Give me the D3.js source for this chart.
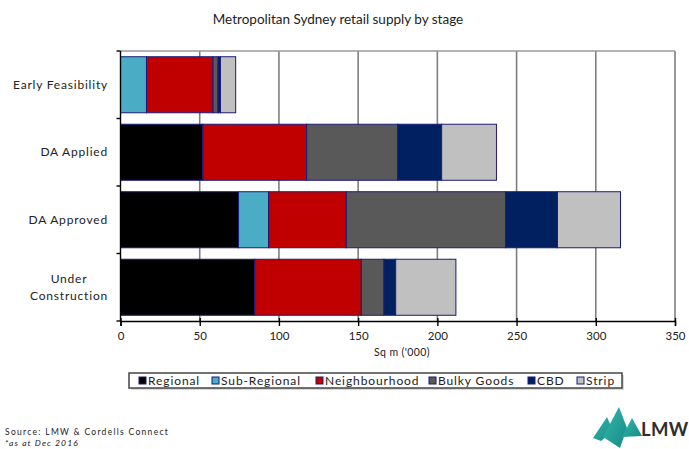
<!DOCTYPE html>
<html>
<head>
<meta charset="utf-8">
<script src="https://cdn.jsdelivr.net/npm/d3@7"></script>
<style>
  html, body { margin: 0; padding: 0; background: #fff; }
  svg { display: block; font-family: Lato, "Open Sans", sans-serif; }
</style>
</head>
<body>
<svg id="chart" width="689" height="449"></svg>
<script>
// Stages (rows, top to bottom) and retail types (stacked segments)
const stages = ["Early Feasibility", "DA Applied", "DA Approved", "Under Construction"];
const types = ["Regional", "Sub-Regional", "Neighbourhood", "Bulky Goods", "CBD", "Strip"];

// Supply in sq m ('000), one array per retail type, ordered by stage
const regional      = [0,    52.0,  74.5, 84.7];
const subRegional   = [16.4, 0,     19.0, 0];
const neighbourhood = [42.0, 65.5,  49.0, 67.3];
const bulkyGoods    = [3.2,  57.5, 100.6, 14.3];
const cbd           = [1.5,  27.7,  32.7,  7.4];
const strip         = [9.6,  34.6,  39.8, 38.0];

const xTicks = [0, 50, 100, 150, 200, 250, 300, 350];

const colours = ["#000000", "#4bacc6", "#c00000", "#595959", "#002060", "#c0c0c0"];

const rows = stages.map((s, i) => ({
  stage: s,
  "Regional": regional[i],
  "Sub-Regional": subRegional[i],
  "Neighbourhood": neighbourhood[i],
  "Bulky Goods": bulkyGoods[i],
  "CBD": cbd[i],
  "Strip": strip[i]
}));

const svg = d3.select("#chart");
const margin = { left: 120.5, right: 14, top: 51, bottom: 128 };
const W = 689, H = 449;

const x = d3.scaleLinear().domain([0, 350]).range([margin.left, W - margin.right]);
const y = d3.scaleBand().domain(stages).range([margin.top, H - margin.bottom]).paddingInner(0.17).paddingOuter(0.085);
const color = d3.scaleOrdinal().domain(types).range(colours);

// Title
svg.append("text")
  .attr("x", 338).attr("y", 24)
  .attr("text-anchor", "middle")
  .attr("font-size", 13.5)
  .attr("fill", "#222")
  .text("Metropolitan Sydney retail supply by stage");

// Vertical gridlines
svg.append("g")
  .selectAll("line")
  .data(xTicks.slice(1))
  .join("line")
  .attr("x1", d => x(d)).attr("x2", d => x(d))
  .attr("y1", margin.top).attr("y2", H - margin.bottom)
  .attr("stroke", "#7f7f7f").attr("stroke-width", 1.6);

// Top border of the plot area
svg.append("line")
  .attr("x1", x(0)).attr("x2", x(350))
  .attr("y1", margin.top).attr("y2", margin.top)
  .attr("stroke", "#9a9a9a").attr("stroke-width", 1.4);

// Stacked bars
const stack = d3.stack().keys(types)(rows);
svg.append("g")
  .selectAll("g")
  .data(stack)
  .join("g")
  .attr("fill", d => color(d.key))
  .selectAll("rect")
  .data(d => d.filter(p => p[1] - p[0] > 0))
  .join("rect")
  .attr("x", d => x(d[0]))
  .attr("width", d => x(d[1]) - x(d[0]))
  .attr("y", d => y(d.data.stage))
  .attr("height", y.bandwidth())
  .attr("stroke", "#1a1a7a")
  .attr("stroke-width", 1);

// X axis
const xAxis = svg.append("g")
  .attr("transform", `translate(0,${H - margin.bottom})`)
  .call(d3.axisBottom(x).tickValues(xTicks).tickSize(5).tickPadding(6).tickFormat(d3.format("d")));
xAxis.select(".domain").attr("stroke", "#000").attr("stroke-width", 1.4);
xAxis.selectAll(".tick line").attr("stroke", "#000").attr("stroke-width", 1.4).attr("y1", -3);
xAxis.selectAll(".tick text").attr("font-size", 11.5).attr("fill", "#222").attr("font-family", "Lato, sans-serif");

svg.append("text")
  .attr("x", 402).attr("y", 356)
  .attr("text-anchor", "middle")
  .attr("font-size", 10.5)
  .attr("letter-spacing", 0.4)
  .attr("fill", "#222")
  .text("Sq m ('000)");

// Y axis line with ticks at category boundaries
const yEdges = [margin.top].concat(stages.map(s => y(s) + y.bandwidth() + y.step() * y.paddingInner() / 2));
yEdges[yEdges.length - 1] = H - margin.bottom;
svg.append("line")
  .attr("x1", x(0)).attr("x2", x(0))
  .attr("y1", margin.top).attr("y2", H - margin.bottom)
  .attr("stroke", "#000").attr("stroke-width", 1.4);
svg.append("g")
  .selectAll("line")
  .data(yEdges)
  .join("line")
  .attr("x1", x(0) - 4).attr("x2", x(0))
  .attr("y1", d => d).attr("y2", d => d)
  .attr("stroke", "#000").attr("stroke-width", 1.4);

// Category labels: single lines right-aligned, wrapped lines centred as a block
const labelLines = {
  "Early Feasibility": ["Early Feasibility"],
  "DA Applied": ["DA Applied"],
  "DA Approved": ["DA Approved"],
  "Under Construction": ["Under", "Construction"]
};
const labelRight = 108;
const catLabels = svg.append("g")
  .selectAll("text")
  .data(stages)
  .join("text")
  .attr("font-size", 12)
  .attr("letter-spacing", 0.8)
  .attr("fill", "#222");
catLabels.each(function (s) {
  const lines = labelLines[s];
  const cy = y(s) + y.bandwidth() / 2;
  const t = d3.select(this);
  lines.forEach((ln, i) => {
    t.append("tspan")
      .attr("y", cy + 4 + (i - (lines.length - 1) / 2) * 17)
      .text(ln);
  });
  // measure and position each line
  const spans = t.selectAll("tspan").nodes();
  const widths = spans.map(n => n.getComputedTextLength());
  const maxW = d3.max(widths);
  const centre = labelRight - maxW / 2;
  spans.forEach((n, i) => {
    d3.select(n).attr("x", centre - widths[i] / 2);
  });
});

// Legend
const legend = svg.append("g");
legend.append("rect")
  .attr("x", 131).attr("y", 375).attr("width", 493).attr("height", 15)
  .attr("fill", "#d9d9d9");
legend.append("rect")
  .attr("x", 129).attr("y", 373).attr("width", 493).attr("height", 15)
  .attr("fill", "#fff").attr("stroke", "#444").attr("stroke-width", 1.5);
const legendX = [139, 212, 316, 429, 528, 577];
const items = legend.selectAll("g.item")
  .data(types)
  .join("g")
  .attr("class", "item")
  .attr("transform", (d, i) => `translate(${legendX[i]},380.5)`);
items.append("rect")
  .attr("x", 0).attr("y", -3.5).attr("width", 7).attr("height", 7)
  .attr("fill", d => color(d))
  .attr("stroke", "#1a1a7a").attr("stroke-width", 1);
items.append("text")
  .attr("x", 9).attr("y", 4.5)
  .attr("font-size", 12)
  .attr("letter-spacing", 0.9)
  .attr("fill", "#222")
  .text(d => d);

// Source note
svg.append("text")
  .attr("x", 5).attr("y", 435)
  .attr("font-size", 8.5).attr("letter-spacing", 1.3).attr("fill", "#222")
  .text("Source: LMW & Cordells Connect");
svg.append("text")
  .attr("x", 5).attr("y", 446)
  .attr("font-size", 8.5).attr("letter-spacing", 1.1).attr("font-style", "italic").attr("fill", "#222")
  .text("*as at Dec 2016");

// Logo
const defs = svg.append("defs");
const grad = defs.append("linearGradient").attr("id", "teal").attr("x1", "0").attr("y1", "0").attr("x2", "1").attr("y2", "1");
grad.append("stop").attr("offset", "0").attr("stop-color", "#35b9ad");
grad.append("stop").attr("offset", "1").attr("stop-color", "#178a87");
const logo = svg.append("g");
logo.append("polygon").attr("points", "593,438 607,417 613,431 601,441").attr("fill", "url(#teal)");
logo.append("polygon").attr("points", "603,437 619,407 627,428 620,448").attr("fill", "url(#teal)");
logo.append("polygon").attr("points", "622,437 632,418 642,436").attr("fill", "url(#teal)");
logo.append("text")
  .attr("x", 641).attr("y", 436)
  .attr("font-size", 18.5).attr("font-weight", "bold").attr("letter-spacing", 0.3)
  .attr("fill", "#2e2e2e").attr("font-family", "Lato, sans-serif")
  .text("LMW");
</script>
</body>
</html>
